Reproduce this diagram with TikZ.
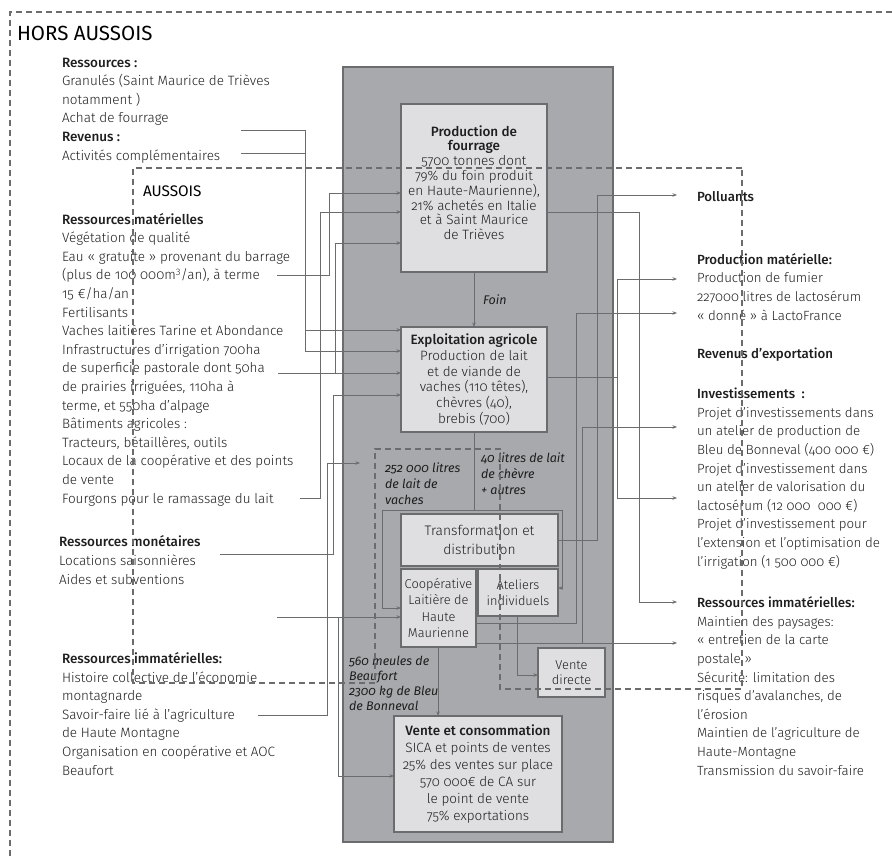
\documentclass[tikz,border=0pt]{standalone}
\usepackage{fontspec}
\setmainfont{Fira Sans Light}[Numbers=OldStyle, BoldFont={Fira Sans Medium}, ItalicFont={Fira Sans Italic}, BoldItalicFont={Fira Sans Medium Italic}]
\newfontfamily\titlefont{Fira Sans}
\usetikzlibrary{arrows.meta}
\definecolor{graybg}{HTML}{A8A9AD}
\definecolor{boxfill}{HTML}{DFDFE1}
\definecolor{edge}{HTML}{6B6C6E}
\definecolor{txt}{HTML}{1E1E1E}
\tikzset{
 plain/.style={inner sep=0pt, outer sep=0pt},
 txtblock/.style={plain, align=left, anchor=base west, text=txt, font=\fontsize{13.5}{18.6}\selectfont},
 txtright/.style={txtblock, font=\fontsize{13.3}{18.6}\selectfont},
 box/.style={plain, draw=edge, line width=1.1pt, fill=boxfill, anchor=north west, align=center, text=txt, font=\fontsize{13.5}{15.8}\selectfont},
 conn/.style={draw=edge, line width=0.9pt},
 arr/.style={conn, -{Stealth[length=4.5pt,width=3.5pt]}},
 zone/.style={draw=edge, line width=1.2pt, dash pattern=on 6pt off 4pt},
 lab/.style={plain, align=left, anchor=base west, text=txt, font=\fontsize{12.5}{16}\selectfont\itshape},
}
\begin{document}
\begin{tikzpicture}[x=1pt,y=-1pt]
\useasboundingbox (0,0) rectangle (892,859);
% central gray area
\node[plain, draw=edge, line width=1.1pt, fill=graybg, anchor=north west, minimum width=270pt, minimum height=775pt] (core) at (343,67) {};

% titles
\node[plain, anchor=base west, text=black, font=\titlefont\fontsize{20.5}{24}\selectfont] (hors) at (17,41) {HORS AUSSOIS};
\node[plain, anchor=base west, text=black, font=\titlefont\fontsize{15.3}{20}\selectfont] (aussois) at (143,196) {AUSSOIS};

% left texts (base = last line)
\node[txtblock] (ressext) at (62,160) {\textbf{Ressources :}\\Granulés (Saint Maurice de Trièves\\notamment )\\Achat de fourrage\\\textbf{Revenus :}\\Activités complémentaires};
\node[txtblock] (ressmat) at (62,503) {\textbf{Ressources matérielles}\\Végétation de qualité\\Eau « gratuite » provenant du barrage\\(plus de 100 000m\textsuperscript{3}/an), à terme\\15 €/ha/an\\Fertilisants\\Vaches laitières Tarine et Abondance\\Infrastructures d'irrigation 700ha\\de superficie pastorale dont 50ha\\de prairies irriguées, 110ha à\\terme, et 550ha d'alpage\\Bâtiments agricoles :\\Tracteurs, bétaillères, outils\\Locaux de la coopérative et des points\\de vente\\Fourgons pour le ramassage du lait};
\node[txtblock] (ressmon) at (59,584) {\textbf{Ressources monétaires}\\Locations saisonnières\\Aides et subventions};
\node[txtblock] (ressimm) at (62,775) {\textbf{Ressources immatérielles:}\\Histoire collective de l'économie\\montagnarde\\Savoir-faire lié à l'agriculture\\de Haute Montagne\\Organisation en coopérative et AOC\\Beaufort};

% right texts
\node[txtright] (poll) at (697,201) {\textbf{Polluants}};
\node[txtright] (prodmat) at (697,320) {\textbf{Production matérielle:}\\Production de fumier\\227000 litres de lactosérum\\« donné » à LactoFrance};
\node[txtright] (revexp) at (697,358) {\textbf{Revenus d'exportation}};
\node[txtright] (invest) at (697,566) {\textbf{Investissements~ :}\\Projet d'investissements dans\\un atelier de production de\\Bleu de Bonneval (400 000 €)\\Projet d'investissement dans\\un atelier de valorisation du\\lactosérum (12 000~ 000 €)\\Projet d'investissement pour\\l'extension et l'optimisation de\\l'irrigation (1 500 000 €)};
\node[txtright] (rimm) at (697,775) {\textbf{Ressources immatérielles:}\\Maintien des paysages:\\« entretien de la carte\\postale »\\Sécurité: limitation des\\risques d'avalanches, de\\l'érosion\\Maintien de l'agriculture de\\Haute-Montagne\\Transmission du savoir-faire};

% named free ends
\coordinate (achat) at (241,130);
\coordinate (activ) at (241,153);
\coordinate (eau) at (277,275);
\coordinate (superf) at (278,373);
\coordinate (fourg) at (300,498);
\coordinate (locat) at (220,554);
\coordinate (vide) at (277,617);
\coordinate (savoir) at (258,715);
\coordinate (lait) at (360,463);
\coordinate (toPoll) at (677,195);
\coordinate (toFum) at (677,279);
\coordinate (toLacto) at (677,313);
\coordinate (toBleu) at (677,427);
\coordinate (toValo) at (677,498);
\coordinate (toImm) at (677,602);
\coordinate (toCarte) at (677,643);

% left connectors
\draw[arr] (achat) -- (305,130) -- (305,351) -- (401,351);
\draw[conn] (activ) -- (305,153);
\draw[arr] (305,330) -- (401,330);
\draw[arr] (eau) -- (329,275) -- (329,193) -- (401,193);
\draw[arr] (fourg) -- (320,498) -- (320,212) -- (401,212);
\draw[arr] (superf) -- (401,373);
\draw[arr] (335,373) -- (335,243) -- (401,243);
\draw[arr] (locat) -- (333,554) -- (333,395) -- (401,395);
\draw[arr] (savoir) -- (327,715) -- (327,463) -- (lait);
\draw[arr] (vide) -- (401,617);
\draw[arr] (338,617) -- (338,776) -- (394,776);
% right connectors
\draw[arr] (547,212) -- (639,212) -- (639,602) -- (toImm);
\draw[conn] (547,377) -- (617,377);
\draw[arr] (617,377) -- (617,279) -- (toFum);
\draw[arr] (617,377) -- (617,498) -- (toValo);
\draw[arr] (558,540) -- (597,540) -- (597,195) -- (toPoll);
\draw[arr] (476,623) -- (576,623) -- (576,313) -- (toLacto);
\draw[arr] (476,643) -- (toCarte);
\draw[arr] (582,643) -- (582,427) -- (toBleu);
% internal flows
\draw[conn] (474,432) -- (474,510);
\draw[conn] (382,510) -- (562,510);
\draw[arr] (382,510) -- (382,608) -- (401,608);
\draw[arr] (562,510) -- (562,588) -- (558,588);
\draw[arr] (517,616) -- (517,675) -- (538,675);

% process boxes
\node[box, minimum width=146pt, minimum height=168pt, font=\fontsize{13.5}{14.8}\selectfont] (prod) at (401,104) {\textbf{Production de}\\\textbf{fourrage}\\5700 tonnes dont\\79\% du foin produit\\en Haute-Maurienne),\\21\% achetés en Italie\\et à Saint Maurice\\de Trièves\\[-4pt]};
\node[box, minimum width=146pt, minimum height=105pt] (expl) at (401,327) {\textbf{Exploitation agricole}\\Production de lait\\et de viande de\\vaches (110 têtes),\\chèvres (40),\\brebis (700)};
\node[box, minimum width=157pt, minimum height=52pt, font=\fontsize{13.8}{19}\selectfont] (trans) at (401,514) {Transformation et\\distribution};
\node[box, minimum width=75pt, minimum height=78pt, font=\fontsize{12.8}{16.5}\selectfont] (coop) at (401,569) {Coopérative\\Laitière de\\Haute\\Maurienne};
\node[box, minimum width=80pt, minimum height=47pt, font=\fontsize{12.8}{16.5}\selectfont] (atel) at (478,569) {Ateliers\\individuels};
\node[box, minimum width=67pt, minimum height=49pt, font=\fontsize{12.8}{15.5}\selectfont] (vdir) at (538,648) {Vente\\directe};
\node[box, minimum width=168pt, minimum height=116pt, font=\fontsize{13.5}{17}\selectfont] (vcons) at (394,716) {\textbf{Vente et consommation}\\SICA et points de ventes\\25\% des ventes sur place\\570 000€ de CA sur\\le point de vente\\75\% exportations};

\draw[arr] (prod.south) -- (expl.north);
\draw[arr] (438,647) -- (438,716);

% italic labels (base = last line)
\node[lab] (foin) at (483,304) {Foin};
\node[lab] (l252) at (385,504) {252 000 litres\\de lait de\\vaches};
\node[lab] (l40) at (481,494) {40 litres de lait\\de chèvre\\+ autres};
\node[lab, font=\fontsize{12.5}{15}\selectfont\itshape] (l560) at (349,710) {560 meules de\\Beaufort\\2300 kg de Bleu\\de Bonneval};

% zones
\draw[zone] (892,12) -- (10,12) -- (10,859);
\draw[zone] (742,168) -- (133,168) -- (133,683) -- (375,683) -- (375,449) -- (500,449) -- (500,689) -- (742,689) -- cycle;
\end{tikzpicture}
\end{document}
